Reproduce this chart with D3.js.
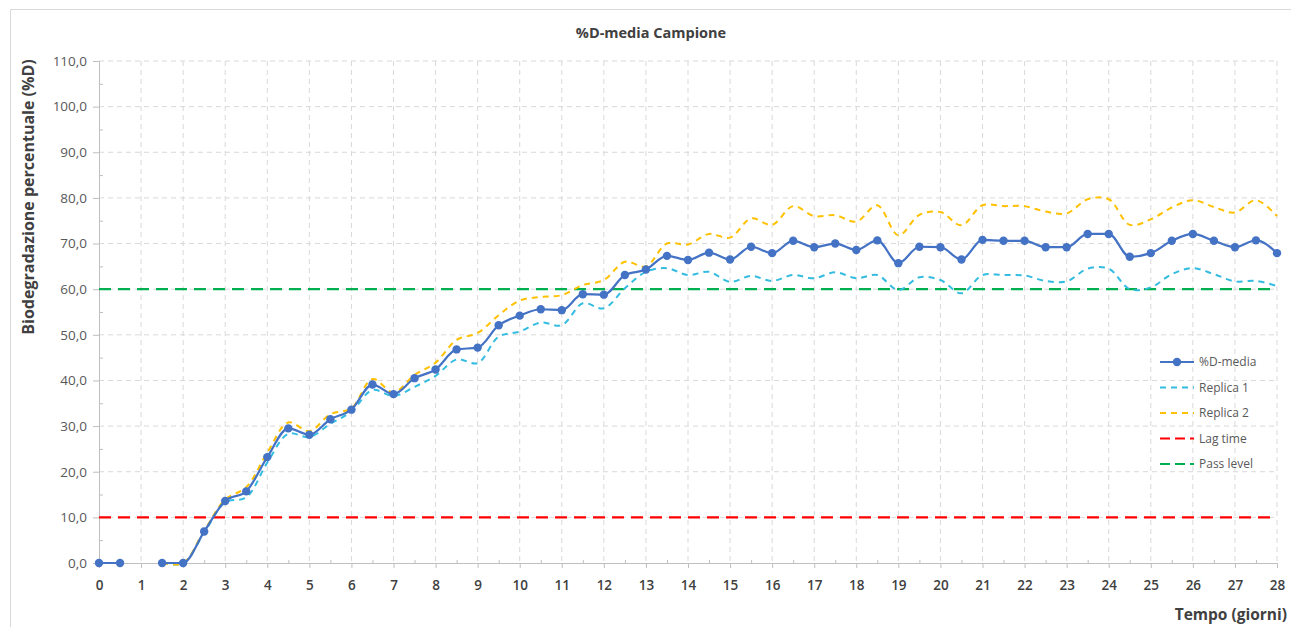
<!DOCTYPE html>
<html>
<head>
<meta charset="utf-8">
<script src="https://cdn.jsdelivr.net/npm/d3@7"></script>
<style>
	body { margin: 0; background: #fff; }
	text { font-family: "Open Sans", "DejaVu Sans", sans-serif; }
</style>
</head>
<body>
<div id="chart"></div>
<script>
// ---------- data
var days = [0, 0.5, 1, 1.5, 2, 2.5, 3, 3.5, 4, 4.5, 5, 5.5, 6, 6.5, 7, 7.5, 8, 8.5, 9, 9.5,
	10, 10.5, 11, 11.5, 12, 12.5, 13, 13.5, 14, 14.5, 15, 15.5, 16, 16.5, 17, 17.5, 18, 18.5, 19, 19.5,
	20, 20.5, 21, 21.5, 22, 22.5, 23, 23.5, 24, 24.5, 25, 25.5, 26, 26.5, 27, 27.5, 28];

var media = [0, 0, null, 0, 0, 6.9, 13.6, 15.7, 23.2, 29.5, 28.1, 31.5, 33.6, 39.1, 37.0, 40.5, 42.4, 46.8, 47.2, 52.1,
	54.2, 55.6, 55.4, 58.9, 58.8, 63.1, 64.3, 67.3, 66.4, 68.0, 66.5, 69.3, 67.9, 70.6, 69.2, 70.0, 68.6, 70.7, 65.7, 69.3,
	69.2, 66.5, 70.8, 70.6, 70.6, 69.2, 69.2, 72.1, 72.1, 67.1, 67.9, 70.6, 72.1, 70.6, 69.2, 70.7, 67.9];

var replica1 = [0, 0, null, 0, 0, 6.6, 13.3, 14.4, 22.0, 28.3, 27.6, 30.5, 33.2, 37.9, 36.6, 38.6, 41.0, 44.6, 43.8, 49.6,
	50.7, 52.7, 52.1, 56.9, 55.8, 60.2, 63.8, 64.6, 63.1, 63.8, 61.6, 62.9, 61.8, 63.1, 62.4, 63.7, 62.4, 63.1, 59.8, 62.6,
	62.0, 59.1, 63.1, 63.1, 63.0, 61.8, 61.7, 64.5, 64.5, 60.0, 60.4, 63.3, 64.6, 63.3, 61.7, 61.8, 60.7];

var replica2 = [0, 0, null, 0, 0, 7.1, 13.9, 16.6, 24.2, 30.8, 28.9, 32.6, 33.9, 40.3, 37.4, 41.2, 43.9, 48.9, 50.4, 54.3,
	57.5, 58.3, 58.7, 60.9, 62.0, 66.0, 65.0, 70.0, 69.8, 72.1, 71.3, 75.5, 74.1, 78.2, 76.0, 76.2, 74.8, 78.4, 71.8, 76.3,
	76.9, 74.0, 78.4, 78.2, 78.2, 77.0, 76.6, 79.7, 79.7, 74.1, 75.3, 77.9, 79.5, 78.0, 76.8, 79.5, 76.0];

var limitDays = [0, 28];
var lagTime = [10, 10];
var passLevel = [60, 60];

var xTicks = [0, 1, 2, 3, 4, 5, 6, 7, 8, 9, 10, 11, 12, 13, 14, 15, 16, 17, 18, 19, 20, 21, 22, 23, 24, 25, 26, 27, 28];
var yTicks = [0, 10, 20, 30, 40, 50, 60, 70, 80, 90, 100, 110];

var seriesNames = ["%D-media", "Replica 1", "Replica 2", "Lag time", "Pass level"];
var seriesColors = ["#4472C4", "#33BCE0", "#FFC000", "#FF0000", "#00B050"];

// ---------- layout
var _width = 1291,
	_height = 627,
	_left = 99, _right = 1277,
	_top = 61, _bottom = 563;

var svg = d3.select("#chart").append("svg")
	.attr("width", _width)
	.attr("height", _height);

// outer frame of the chart area
svg.append("path")
	.attr("d", "M10.5," + _height + "V9.5H" + _width)
	.attr("fill", "none")
	.attr("stroke", "#d9d9d9");

var x = d3.scaleLinear().domain([0, 28]).range([_left, _right]);
var y = d3.scaleLinear().domain([0, 110]).range([_bottom, _top]);

var fmt = function (d) { return d3.format(".1f")(d).replace(".", ","); };

//----------------- grid
var grid = svg.append("g");
grid.selectAll(".vg")
	.data(xTicks.slice(1))
	.enter().append("line")
	.attr("x1", d => x(d)).attr("x2", d => x(d))
	.attr("y1", _top).attr("y2", _bottom)
	.attr("stroke", "#d9d9d9").attr("stroke-dasharray", "5,4");

grid.selectAll(".hg")
	.data(yTicks.slice(1))
	.enter().append("line")
	.attr("x1", _left).attr("x2", _right)
	.attr("y1", d => y(d)).attr("y2", d => y(d))
	.attr("stroke", "#d9d9d9").attr("stroke-dasharray", "5,4");

//----------------- axes
var xAxis = svg.append("g")
	.attr("transform", "translate(0," + _bottom + ")")
	.call(d3.axisBottom(x).tickValues(xTicks).tickSize(5).tickPadding(12).tickFormat(d3.format("d")));

var xMinor = svg.append("g")
	.attr("transform", "translate(0," + (_bottom - 3) + ")")
	.call(d3.axisBottom(x).tickValues(days.filter(d => d % 1 !== 0)).tickSize(3).tickFormat(""));

var yAxis = svg.append("g")
	.attr("transform", "translate(" + _left + ",0)")
	.call(d3.axisLeft(y).tickValues(yTicks).tickSize(6).tickPadding(6).tickFormat(fmt));

var yMinor = svg.append("g")
	.attr("transform", "translate(" + _left + ",0)")
	.call(d3.axisRight(y).tickValues([5, 15, 25, 35, 45, 55, 65, 75, 85, 95, 105]).tickSize(4).tickFormat(""));

[xAxis, xMinor, yAxis, yMinor].forEach(function (g) {
	g.select(".domain").attr("stroke", "#bfbfbf");
	g.selectAll(".tick line").attr("stroke", "#bfbfbf");
});
xMinor.select(".domain").remove();
yMinor.select(".domain").remove();

xAxis.selectAll(".tick text")
	.attr("font-size", 13.5).attr("font-weight", 600).attr("fill", "#404040");
yAxis.selectAll(".tick text")
	.attr("font-size", 13.5).attr("fill", "#595959");

//----------------- titles
svg.append("text")
	.attr("x", 651).attr("y", 38)
	.attr("text-anchor", "middle")
	.attr("font-size", 14.5).attr("font-weight", "bold").attr("fill", "#404040")
	.text("%D-media Campione");

svg.append("text")
	.attr("transform", "translate(34,197) rotate(-90)")
	.attr("text-anchor", "middle")
	.attr("font-size", 16).attr("font-weight", "bold").attr("fill", "#404040")
	.text("Biodegradazione percentuale (%D)");

svg.append("text")
	.attr("x", 1287).attr("y", 620)
	.attr("text-anchor", "end")
	.attr("font-size", 15.5).attr("font-weight", "bold").attr("fill", "#404040")
	.text("Tempo (giorni)");

//----------------- lines
function seriesLine(values, curve) {
	return d3.line()
		.defined((d, i) => values[i] !== null)
		.x((d, i) => x(days[i]))
		.y((d, i) => y(values[i]))
		.curve(curve);
}

function limitLine(values) {
	return d3.line()
		.x((d, i) => x(limitDays[i]))
		.y((d, i) => y(values[i]));
}

var plot = svg.append("g");

plot.append("path")
	.attr("d", limitLine(lagTime)(lagTime))
	.attr("fill", "none").attr("stroke", seriesColors[3])
	.attr("stroke-width", 2.2).attr("stroke-dasharray", "12,7");

plot.append("path")
	.attr("d", limitLine(passLevel)(passLevel))
	.attr("fill", "none").attr("stroke", seriesColors[4])
	.attr("stroke-width", 2.2).attr("stroke-dasharray", "12,7");

plot.append("path")
	.attr("d", seriesLine(replica1, d3.curveCatmullRom)(replica1))
	.attr("fill", "none").attr("stroke", seriesColors[1])
	.attr("stroke-width", 2).attr("stroke-dasharray", "6,5");

plot.append("path")
	.attr("d", seriesLine(replica2, d3.curveCatmullRom)(replica2))
	.attr("fill", "none").attr("stroke", seriesColors[2])
	.attr("stroke-width", 2).attr("stroke-dasharray", "6,5");

plot.append("path")
	.attr("d", seriesLine(media, d3.curveMonotoneX)(media))
	.attr("fill", "none").attr("stroke", seriesColors[0])
	.attr("stroke-width", 2.2);

plot.selectAll(".marker")
	.data(days.filter((d, i) => media[i] !== null))
	.enter().append("circle")
	.attr("cx", d => x(d))
	.attr("cy", d => y(media[days.indexOf(d)]))
	.attr("r", 4.2)
	.attr("fill", seriesColors[0]);

//----------------- legend
var legendTop = 362,
	legendLeft = 1160;

var legend = svg.append("g");
var item = legend.selectAll("g")
	.data(seriesNames)
	.enter().append("g")
	.attr("transform", (d, i) => "translate(" + legendLeft + "," + (legendTop + i * 25.5) + ")");

item.append("line")
	.attr("x1", 0).attr("x2", 34)
	.attr("stroke", (d, i) => seriesColors[i])
	.attr("stroke-width", 2)
	.attr("stroke-dasharray", (d, i) => i === 0 ? null : (i < 3 ? "6,5" : "10,5"));

item.filter((d, i) => i === 0).append("circle")
	.attr("cx", 17).attr("r", 4.2).attr("fill", seriesColors[0]);

item.append("text")
	.attr("x", 39).attr("y", 4)
	.attr("font-size", 12).attr("fill", "#595959")
	.text(d => d);
</script>
</body>
</html>
